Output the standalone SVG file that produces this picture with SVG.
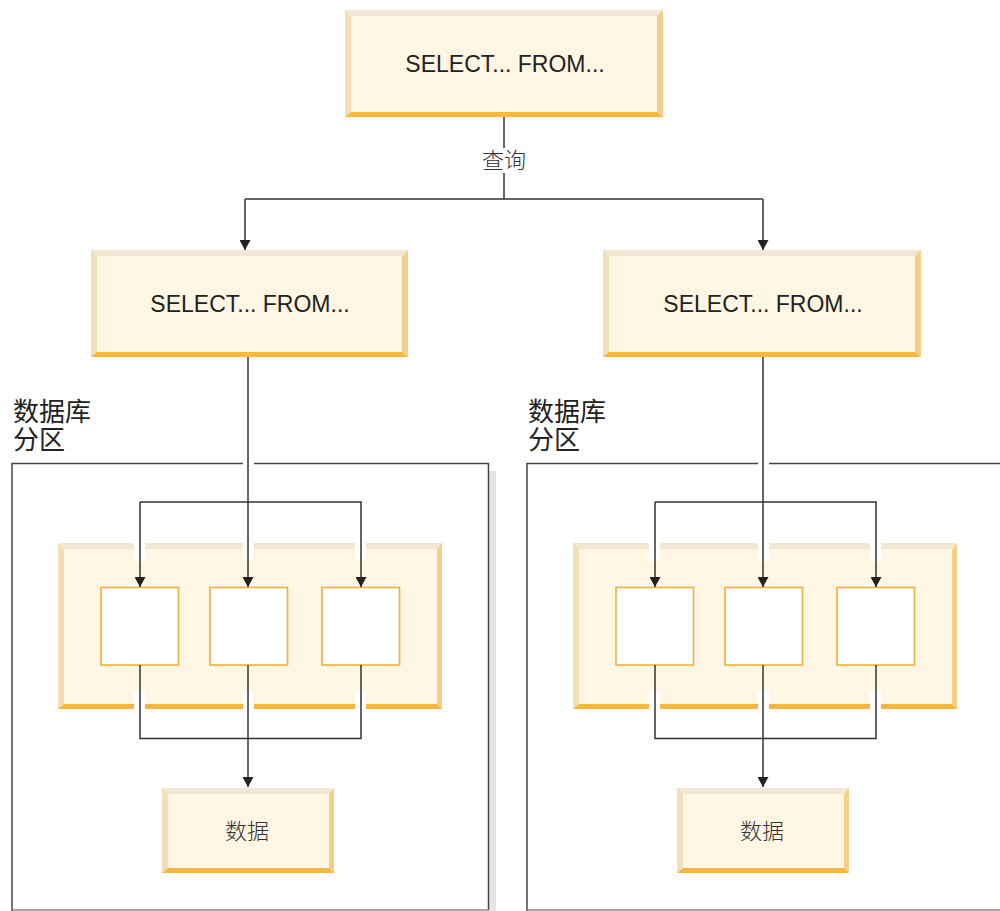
<svg xmlns="http://www.w3.org/2000/svg" width="1000" height="911" viewBox="0 0 1000 911">
<style>
.fill{fill:#fff6e3}
.bt{fill:#f3e7d3}
.bl{fill:#f2deb9}
.br{fill:#f4cf8a}
.bb{fill:#f5b73f}
.frame{fill:none;stroke:#444;stroke-width:1.5}
.shadow{fill:#e4e4e6}
.cell{fill:#fff;stroke:#f0b040;stroke-width:1.6}
.gap{fill:#fff}
.conn{fill:none;stroke:#333;stroke-width:1.5}
.arr{marker-end:url(#ah)}
.sql{font-family:"Liberation Sans",Arial,sans-serif;font-size:23px;fill:#222;text-anchor:middle}
.cjk{font-family:"Noto Sans CJK SC",sans-serif;fill:#222}
.thin{font-weight:300;text-anchor:middle;font-size:22px;fill:#333}
.lbl{font-size:26px}
</style>
<defs>
<marker id="ah" markerUnits="userSpaceOnUse" markerWidth="11" markerHeight="11" refX="10" refY="5.5" orient="auto">
<path d="M0,0 L10,5.5 L0,11 z" fill="#222"/>
</marker>
</defs>

<!-- partitions -->
<g id="partition-left">
<rect class="shadow" x="489" y="471" width="7" height="440"/>
<path class="frame" d="M12,911 V463.5 H488.5 V910"/>
<line x1="12" y1="910" x2="488.5" y2="910" stroke="#888" stroke-width="1.5"/>
<rect class="gap" x="243" y="459" width="11" height="8"/>
<text class="cjk lbl" x="13" y="421"><tspan x="13" y="421">数据库</tspan><tspan x="13" y="449">分区</tspan></text>
</g>
<g id="partition-right">
<path class="frame" d="M527,911 V463.5 H1001"/>
<line x1="527" y1="910" x2="1000" y2="910" stroke="#888" stroke-width="1.5"/>
<rect class="gap" x="758" y="459" width="11" height="8"/>
<text class="cjk lbl" x="528" y="421"><tspan x="528" y="421">数据库</tspan><tspan x="528" y="449">分区</tspan></text>
</g>

<!-- top query node -->
<g id="node-top">
<rect class="fill" x="345" y="10" width="318" height="107"/>
<polygon class="bt" points="345,10 663,10 657,16 351,16"/>
<polygon class="bl" points="345,10 351,16 351,112 345,117"/>
<polygon class="br" points="663,10 663,117 657,112 657,16"/>
<polygon class="bb" points="345,117 351,112 657,112 663,117"/>
<text class="sql" x="505" y="72">SELECT... FROM...</text>
</g>

<!-- middle nodes -->
<g id="node-mid-left">
<rect class="fill" x="91" y="250" width="317" height="107"/>
<polygon class="bt" points="91,250 408,250 402,256 97,256"/>
<polygon class="bl" points="91,250 97,256 97,352 91,357"/>
<polygon class="br" points="408,250 408,357 402,352 402,256"/>
<polygon class="bb" points="91,357 97,352 402,352 408,357"/>
<text class="sql" x="250" y="312">SELECT... FROM...</text>
</g>
<g id="node-mid-right">
<rect class="fill" x="603" y="250" width="318" height="107"/>
<polygon class="bt" points="603,250 921,250 915,256 609,256"/>
<polygon class="bl" points="603,250 609,256 609,352 603,357"/>
<polygon class="br" points="921,250 921,357 915,352 915,256"/>
<polygon class="bb" points="603,357 609,352 915,352 921,357"/>
<text class="sql" x="763" y="312">SELECT... FROM...</text>
</g>

<!-- left partition contents -->
<g id="agents-left">
<rect class="fill" x="58" y="543" width="384" height="166"/>
<polygon class="bt" points="58,543 442,543 436,549 64,549"/>
<polygon class="bl" points="58,543 64,549 64,704 58,709"/>
<polygon class="br" points="442,543 442,709 437,704 437,549"/>
<polygon class="bb" points="58,709 64,704 437,704 442,709"/>
<rect class="gap" x="134" y="543" width="11" height="18"/>
<rect class="gap" x="243" y="543" width="11" height="18"/>
<rect class="gap" x="355" y="543" width="11" height="18"/>
<rect class="gap" x="134" y="691" width="11" height="18"/>
<rect class="gap" x="243" y="691" width="11" height="18"/>
<rect class="gap" x="355" y="691" width="11" height="18"/>
</g>
<g id="agent-l1"><rect class="cell" x="101" y="587.5" width="77.5" height="77.5"/></g>
<g id="agent-l2"><rect class="cell" x="210" y="587.5" width="77.5" height="77.5"/></g>
<g id="agent-l3"><rect class="cell" x="322" y="587.5" width="77.5" height="77.5"/></g>
<g id="data-left">
<rect class="fill" x="162" y="788" width="172" height="85"/>
<polygon class="bt" points="162,788 334,788 328,794 168,794"/>
<polygon class="bl" points="162,788 168,794 168,868 162,873"/>
<polygon class="br" points="334,788 334,873 329,868 329,794"/>
<polygon class="bb" points="162,873 168,868 329,868 334,873"/>
<text class="cjk thin" x="247" y="839">数据</text>
</g>

<!-- right partition contents -->
<g id="agents-right">
<rect class="fill" x="573" y="543" width="384" height="166"/>
<polygon class="bt" points="573,543 957,543 951,549 579,549"/>
<polygon class="bl" points="573,543 579,549 579,704 573,709"/>
<polygon class="br" points="957,543 957,709 952,704 952,549"/>
<polygon class="bb" points="573,709 579,704 952,704 957,709"/>
<rect class="gap" x="649" y="543" width="11" height="18"/>
<rect class="gap" x="758" y="543" width="11" height="18"/>
<rect class="gap" x="870" y="543" width="11" height="18"/>
<rect class="gap" x="649" y="691" width="11" height="18"/>
<rect class="gap" x="758" y="691" width="11" height="18"/>
<rect class="gap" x="870" y="691" width="11" height="18"/>
</g>
<g id="agent-r1"><rect class="cell" x="616" y="587.5" width="77.5" height="77.5"/></g>
<g id="agent-r2"><rect class="cell" x="725" y="587.5" width="77.5" height="77.5"/></g>
<g id="agent-r3"><rect class="cell" x="837" y="587.5" width="77.5" height="77.5"/></g>
<g id="data-right">
<rect class="fill" x="677" y="788" width="172" height="85"/>
<polygon class="bt" points="677,788 849,788 843,794 683,794"/>
<polygon class="bl" points="677,788 683,794 683,868 677,873"/>
<polygon class="br" points="849,788 849,873 844,868 844,794"/>
<polygon class="bb" points="677,873 683,868 844,868 849,873"/>
<text class="cjk thin" x="762" y="839">数据</text>
</g>

<!-- connectors -->
<g id="connectors">
<path class="conn" d="M504,117 V148"/>
<path class="conn" d="M504,173 V199"/>
<path class="conn" d="M245,199 H763"/>
<path class="conn arr" d="M245,199 V250"/>
<path class="conn arr" d="M763,199 V250"/>

<path class="conn arr" d="M248,357 V587"/>
<path class="conn arr" d="M140,502 H361 V587"/>
<path class="conn arr" d="M140,502 V587"/>
<path class="conn" d="M140,665 V738.5 H361 V665"/>
<path class="conn arr" d="M248,665 V787"/>

<path class="conn arr" d="M763,357 V587"/>
<path class="conn arr" d="M655,502 H876 V587"/>
<path class="conn arr" d="M655,502 V587"/>
<path class="conn" d="M655,665 V738.5 H876 V665"/>
<path class="conn arr" d="M763,665 V787"/>
<text class="cjk thin" x="504" y="168">查询</text>
</g>
</svg>
